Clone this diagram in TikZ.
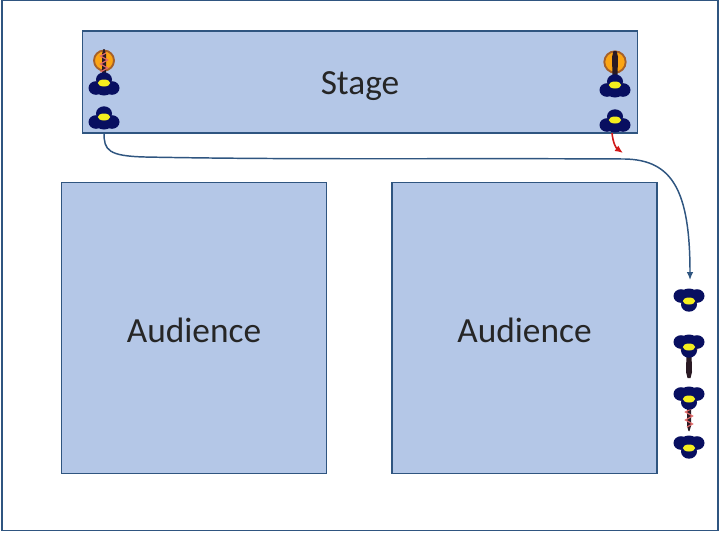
\documentclass[tikz,border=0pt]{standalone}
\usepackage{fontspec}
\setmainfont{Carlito}
\usetikzlibrary{arrows.meta}
\definecolor{boxfill}{HTML}{B4C7E7}
\definecolor{boxline}{HTML}{2F5580}
\definecolor{navybody}{HTML}{080F60}
\definecolor{hiviz}{HTML}{F5EE1E}
\definecolor{skin}{HTML}{F2C79A}
\definecolor{tubedark}{HTML}{2A1A24}
\definecolor{ringfill}{HTML}{FBA514}
\definecolor{ringline}{HTML}{A5602A}
\definecolor{redpath}{HTML}{D01818}
\tikzset{
  x=0.75pt,y=-0.75pt,
  area/.style={draw=boxline,fill=boxfill,line width=1.4pt,inner sep=0pt},
  caption/.style={inner sep=0pt,text=black!85,font=\fontsize{26.5}{30}\selectfont},
  link/.style={draw=boxline,line width=1.1pt,-{Latex[length=6pt,width=5pt]}},
  redlink/.style={draw=redpath,line width=1.2pt,-{Latex[length=6pt,width=5pt]}},
  pics/musician/.style={code={
    \fill[navybody] (0,-3.5) ellipse (8 and 7.2);
    \fill[navybody] (-8,5) ellipse (7.5 and 6.8);
    \fill[navybody] (8,5) ellipse (7.5 and 6.8);
    \fill[navybody] (0,5.5) ellipse (9 and 7);
    \fill[hiviz] (0,0) ellipse (6.2 and 3.5);
  }},
  pics/arms/.style={code={
    \fill[skin] (-11,3) -- (-5,-7) -- (5,-7) -- (11,3) -- cycle;
  }},
  pics/tube/.style={code={
    \fill[tubedark] (-2.5,0) -- (2.5,0) -- (3,-20) -- (1.5,-26) -- (-1.5,-26) -- (-3,-20) -- cycle;
  }},
  pics/redtube/.style={code={
    \fill[tubedark] (-2,0) -- (2,0) -- (2,-22) -- (0.5,-27) -- (-0.5,-27) -- (-2,-22) -- cycle;
    \draw[redpath!65!white,line width=0.9pt] (-3.5,-4) -- (3.5,-8) -- (-3.5,-12) -- (3.5,-16) -- (-3.5,-20) -- (2,-23);
  }},
}
\begin{document}
\begin{tikzpicture}
\useasboundingbox (0,0) rectangle (720,540);
\fill[white] (0,0) rectangle (720,540);
\node[draw=boxline,line width=1.4pt,fill=white,minimum width=537.5pt,minimum height=397.5pt,inner sep=0pt] (frame) at (360,265.5) {};
\node[area,minimum width=416.25pt,minimum height=76.5pt] (stage) at (360,82) {};
\node[area,minimum width=198.75pt,minimum height=218.25pt] (aud1) at (194,328) {};
\node[area,minimum width=198.75pt,minimum height=218.25pt] (aud2) at (524.5,328) {};
\node[caption] (stagetext) at (360,86) {Stage};
\node[caption] (audtexta) at (194,330) {Audience};
\node[caption] (audtextb) at (524.5,330) {Audience};
% rings
\node[circle,draw=ringline,fill=ringfill,line width=1.4pt,minimum size=15pt,inner sep=0pt] (ringa) at (104,60.5) {};
\node[circle,draw=ringline,fill=ringfill,line width=1.4pt,minimum size=16pt,inner sep=0pt] (ringb) at (615,62) {};
% stage musicians
\pic at (104,76) {redtube};
\pic at (615,77) {tube};
\pic at (104,83) {arms};
\pic at (615,85) {arms};
\pic at (104,83) {musician};
\pic at (104,117) {musician};
\pic at (615,85) {musician};
\pic at (615,120) {musician};
% waiting musicians
\pic[rotate=180] at (689,301) {musician};
\pic[rotate=180] at (689,349) {arms};
\pic[rotate=180] at (689,352) {tube};
\pic[rotate=180] at (689,347) {musician};
\pic[rotate=180] at (689,404) {redtube};
\pic[rotate=180] at (689,399) {musician};
\pic[rotate=180] at (689,448) {musician};
% connectors
\coordinate (bluestart) at (104,133);
\coordinate (blueend) at (690,280);
\coordinate (redstart) at (612,133);
\coordinate (redend) at (623,153);
\path[link] (bluestart) .. controls (104,150) and (108,156) .. (145,157)
  .. controls (300,160) and (450,158) .. (625,159)
  .. controls (672,160) and (690,190) .. (blueend);
\path[redlink] (redstart) .. controls (613,143) and (616,148) .. (redend);
\end{tikzpicture}
\end{document}
